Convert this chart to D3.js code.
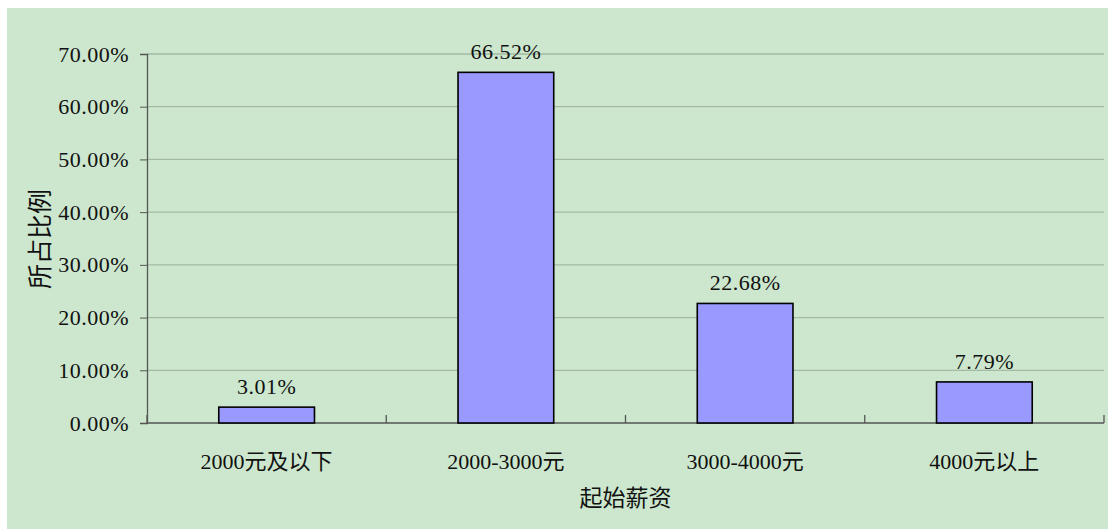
<!DOCTYPE html>
<html>
<head>
<meta charset="utf-8">
<script src="https://cdn.jsdelivr.net/npm/d3@7/dist/d3.min.js"></script>
<style>
  body { margin: 0; background: #fff; }
  text { fill: #111; }
</style>
</head>
<body>
<svg id="chart"></svg>
<script>
const categories = ['2000元及以下', '2000-3000元', '3000-4000元', '4000元以上'];
const shares = [3.01, 66.52, 22.68, 7.79];
const yTicks = [0, 10, 20, 30, 40, 50, 60, 70];

const W = 1108, H = 529;
const margin = { left: 147, right: 4, top: 54, bottom: 106 };

const svg = d3.select('#chart')
  .attr('width', W)
  .attr('height', H);

svg.append('rect')
  .attr('x', 7).attr('y', 8)
  .attr('width', W - 7).attr('height', H - 8)
  .attr('fill', '#cce7cd');

const x = d3.scaleBand()
  .domain(categories)
  .range([margin.left, W - margin.right])
  .paddingInner(0.6)
  .paddingOuter(0.3);

const y = d3.scaleLinear()
  .domain([0, 70])
  .range([H - margin.bottom, margin.top]);

const serif = '"Liberation Serif", "Noto Sans CJK SC", serif';
const cjk = '"Noto Sans CJK SC", sans-serif';

// gridlines
svg.append('g')
  .selectAll('line')
  .data(yTicks.filter(d => d > 0))
  .enter()
  .append('line')
  .attr('x1', margin.left).attr('x2', W - margin.right)
  .attr('y1', d => y(d)).attr('y2', d => y(d))
  .attr('stroke', '#a3b9a5')
  .attr('stroke-width', 1.3);

// y axis
const yAxis = svg.append('g')
  .attr('transform', `translate(${margin.left},0)`)
  .call(d3.axisLeft(y).tickValues(yTicks).tickSize(7).tickPadding(11)
    .tickFormat(d => d3.format('.2f')(d) + '%'));
yAxis.select('.domain').attr('stroke', '#555').attr('stroke-width', 1.3);
yAxis.selectAll('.tick line').attr('stroke', '#555');
yAxis.selectAll('text')
  .style('font-family', serif)
  .style('font-size', '22px')
  .style('letter-spacing', '0.5px')
  .attr('fill', '#111');

// x axis baseline with category separators (ticks pointing up)
const x0 = margin.left, x1 = W - margin.right;
const step = (x1 - x0) / categories.length;
svg.append('line')
  .attr('x1', x0).attr('x2', x1)
  .attr('y1', y(0)).attr('y2', y(0))
  .attr('stroke', '#555').attr('stroke-width', 1.3);
svg.append('g')
  .selectAll('line')
  .data(d3.range(categories.length + 1))
  .enter()
  .append('line')
  .attr('x1', i => x0 + i * step).attr('x2', i => x0 + i * step)
  .attr('y1', y(0)).attr('y2', y(0) - 8)
  .attr('stroke', '#555').attr('stroke-width', 1.3);

// bars
svg.append('g')
  .selectAll('rect')
  .data(shares)
  .enter()
  .append('rect')
  .attr('x', (d, i) => x(categories[i]))
  .attr('y', d => y(d))
  .attr('width', x.bandwidth())
  .attr('height', d => y(0) - y(d))
  .attr('fill', '#9999ff')
  .attr('stroke', '#000')
  .attr('stroke-width', 1.6);

// value labels
svg.append('g')
  .selectAll('text')
  .data(shares)
  .enter()
  .append('text')
  .attr('x', (d, i) => x(categories[i]) + x.bandwidth() / 2)
  .attr('y', d => y(d) - 13)
  .attr('text-anchor', 'middle')
  .style('font-family', serif)
  .style('font-size', '22px')
  .style('letter-spacing', '0.5px')
  .text(d => d.toFixed(2) + '%');

// category labels
svg.append('g')
  .selectAll('text')
  .data(categories)
  .enter()
  .append('text')
  .attr('x', d => x(d) + x.bandwidth() / 2)
  .attr('y', y(0) + 46)
  .attr('text-anchor', 'middle')
  .style('font-family', serif)
  .style('font-size', '22px')
  .text(d => d);

// axis titles
svg.append('text')
  .attr('x', (x0 + x1) / 2)
  .attr('y', 506)
  .attr('text-anchor', 'middle')
  .style('font-family', cjk)
  .style('font-size', '23px')
  .text('起始薪资');

svg.append('text')
  .attr('transform', 'translate(49,239) rotate(-90)')
  .attr('text-anchor', 'middle')
  .style('font-family', cjk)
  .style('font-size', '25px')
  .text('所占比例');
</script>
</body>
</html>
